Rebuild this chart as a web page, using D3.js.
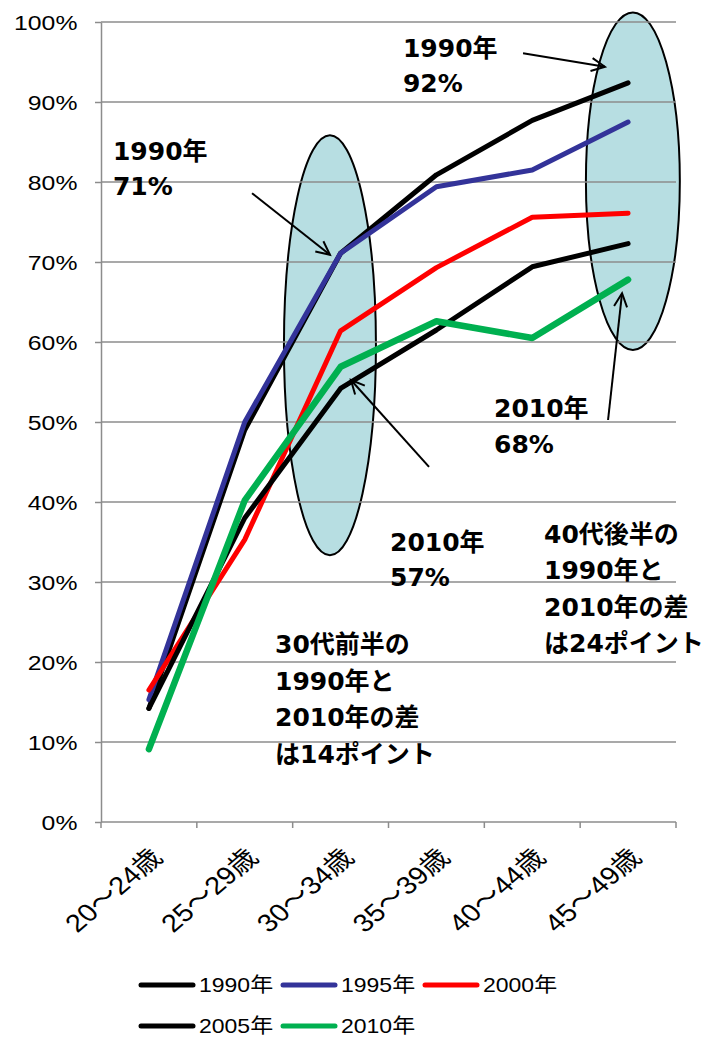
<!DOCTYPE html>
<meta charset="utf-8">
<style>
body { margin: 0; background: #fff; }
.grid line { stroke: #8c8c8c; stroke-width: 1.5px; }
.axis path, .axis line { stroke: #8c8c8c; stroke-width: 1.5px; }
.tick-label { font: 21px "Liberation Sans", Arial, "Noto Sans CJK JP", sans-serif; fill: #000; }
.x-label { font: 25px "Liberation Sans", Arial, "Noto Sans CJK JP", sans-serif; fill: #000; }
.note { font: bold 25px "DejaVu Sans", "Noto Sans CJK JP", sans-serif; fill: #000; }
.legend text { font: 20px "Liberation Sans", Arial, "Noto Sans CJK JP", sans-serif; fill: #000; }
</style>
<svg width="704" height="1037"></svg>
<script src="https://d3js.org/d3.v7.min.js"></script>
<script>
// categories and series (share of each age group)
var ages = ["20～24歳", "25～29歳", "30～34歳", "35～39歳", "40～44歳", "45～49歳"];
var years = ["1990年", "1995年", "2000年", "2005年", "2010年"];
var v1990 = [0.142, 0.490, 0.711, 0.809, 0.877, 0.924];
var v1995 = [0.153, 0.500, 0.711, 0.794, 0.815, 0.875];
var v2000 = [0.165, 0.353, 0.614, 0.693, 0.756, 0.761];
var v2005 = [0.142, 0.380, 0.542, 0.615, 0.694, 0.723];
var v2010 = [0.091, 0.402, 0.569, 0.626, 0.605, 0.678];
var yTicks = [0, 0.1, 0.2, 0.3, 0.4, 0.5, 0.6, 0.7, 0.8, 0.9, 1.0];

var series = [
  { name: years[0], values: v1990, color: "#000000", width: 5 },
  { name: years[1], values: v1995, color: "#333399", width: 5 },
  { name: years[2], values: v2000, color: "#ff0000", width: 5 },
  { name: years[3], values: v2005, color: "#000000", width: 5 },
  { name: years[4], values: v2010, color: "#00b050", width: 6.5 }
];

var svg = d3.select("svg"),
    plotL = 101, plotR = 676, plotT = 22, plotB = 822;

var x = d3.scaleBand().domain(ages).range([plotL, plotR]);
var y = d3.scaleLinear().domain([0, 1]).range([plotB, plotT]);
// fractional category position, used to place the call-outs
var xi = d3.scaleLinear().domain([0, 1]).range([x(ages[0]) + x.bandwidth() / 2, x(ages[1]) + x.bandwidth() / 2]);

// highlight ellipses: [category pos, value, half width (cat units), half height (value units)]
var ellipses = [[1.889, 0.596, 0.48, 0.2625], [5.05, 0.801, 0.49, 0.211]];
svg.append("g").selectAll("ellipse")
  .data(ellipses)
  .enter().append("ellipse")
    .attr("cx", function(d) { return xi(d[0]); })
    .attr("cy", function(d) { return y(d[1]); })
    .attr("rx", function(d) { return xi(d[2]) - xi(0); })
    .attr("ry", function(d) { return y(0) - y(d[3]); })
    .attr("fill", "#b7dee2")
    .attr("stroke", "#000")
    .attr("stroke-width", 2);

// gridlines
svg.append("g").attr("class", "grid")
  .selectAll("line")
  .data(yTicks.slice(1))
  .enter().append("line")
    .attr("x1", plotL).attr("x2", plotR)
    .attr("y1", function(d) { return y(d); })
    .attr("y2", function(d) { return y(d); });

// y axis
var yAxis = svg.append("g").attr("class", "axis")
    .attr("transform", "translate(" + plotL + ",0)")
    .call(d3.axisLeft(y).tickValues(yTicks).tickSize(6).tickSizeOuter(0).tickFormat(d3.format(".0%")));
yAxis.selectAll("text")
    .attr("class", "tick-label")
    .attr("x", -20)
    .attr("dy", "0.36em")
    .attr("transform", "scale(1.18,1)");

// x axis with ticks on band boundaries
var xg = svg.append("g").attr("class", "axis");
xg.append("line").attr("x1", plotL).attr("x2", plotR).attr("y1", plotB).attr("y2", plotB);
xg.selectAll(".bt")
  .data(ages.map(function(a) { return x(a); }).concat([plotR]))
  .enter().append("line")
    .attr("x1", function(d) { return d; }).attr("x2", function(d) { return d; })
    .attr("y1", plotB).attr("y2", plotB + 6);
xg.selectAll("text")
  .data(ages)
  .enter().append("text")
    .attr("class", "x-label")
    .attr("text-anchor", "end")
    .attr("transform", function(d) {
      return "translate(" + (x(d) + x.bandwidth() / 2 + 15) + "," + (plotB + 37) + ") scale(1.16,1) rotate(-45)";
    })
    .text(function(d) { return d; });

// lines
var line = d3.line()
    .x(function(d, i) { return x(ages[i]) + x.bandwidth() / 2; })
    .y(function(d) { return y(d); });

svg.append("g").selectAll("path")
  .data(series)
  .enter().append("path")
    .attr("d", function(d) { return line(d.values); })
    .attr("fill", "none")
    .attr("stroke", function(d) { return d.color; })
    .attr("stroke-width", function(d) { return d.width; })
    .attr("stroke-linecap", "round")
    .attr("stroke-linejoin", "round");

// arrows: [tail pos, tail value, head pos, head value]
var arrows = [
  [1.076, 0.786, 1.889, 0.709],
  [3.904, 0.961, 4.758, 0.944],
  [2.923, 0.444, 2.108, 0.5525],
  [4.791, 0.5025, 4.937, 0.661]
];
var ag = svg.append("g").attr("fill", "none").attr("stroke", "#000").attr("stroke-width", 2);
arrows.forEach(function(a) {
  var x1 = xi(a[0]), y1 = y(a[1]), x2 = xi(a[2]), y2 = y(a[3]);
  var ang = Math.atan2(y2 - y1, x2 - x1), len = 15, sp = 0.45;
  ag.append("line").attr("x1", x1).attr("y1", y1).attr("x2", x2).attr("y2", y2);
  ag.append("path").attr("d",
    "M" + (x2 - len * Math.cos(ang - sp)) + "," + (y2 - len * Math.sin(ang - sp)) +
    "L" + x2 + "," + y2 +
    "L" + (x2 - len * Math.cos(ang + sp)) + "," + (y2 - len * Math.sin(ang + sp)));
});

// call-out texts: [pos, value, line height, lines]
var notes = [
  [-0.375, 0.8275, 35, ["1990年", "71%"]],
  [2.651, 0.956, 35, ["1990年", "92%"]],
  [3.601, 0.506, 36, ["2010年", "68%"]],
  [2.516, 0.339, 35, ["2010年", "57%"]],
  [1.316, 0.211, 36.5, ["30代前半の", "1990年と", "2010年の差", "は14ポイント"]],
  [4.123, 0.349, 36.5, ["40代後半の", "1990年と", "2010年の差", "は24ポイント"]]
];
notes.forEach(function(n) {
  var t = svg.append("text").attr("class", "note")
      .attr("x", xi(n[0])).attr("y", y(n[1]));
  n[3].forEach(function(s, i) {
    t.append("tspan").attr("x", xi(n[0])).attr("dy", i ? n[2] : 0).text(s);
  });
});

// legend
var legend = svg.append("g").attr("class", "legend");
series.forEach(function(s, i) {
  var row = i < 3 ? 0 : 1, col = i < 3 ? i : i - 3;
  var gx = 141 + col * 142, gy = 985 + row * 41;
  legend.append("line")
      .attr("x1", gx).attr("x2", gx + 52).attr("y1", gy).attr("y2", gy)
      .attr("stroke", s.color).attr("stroke-width", 5).attr("stroke-linecap", "round");
  legend.append("text")
      .attr("x", (gx + 58) / 1.15).attr("y", gy).attr("dy", "0.36em")
      .attr("transform", "scale(1.15,1)")
      .text(s.name);
});
</script>
